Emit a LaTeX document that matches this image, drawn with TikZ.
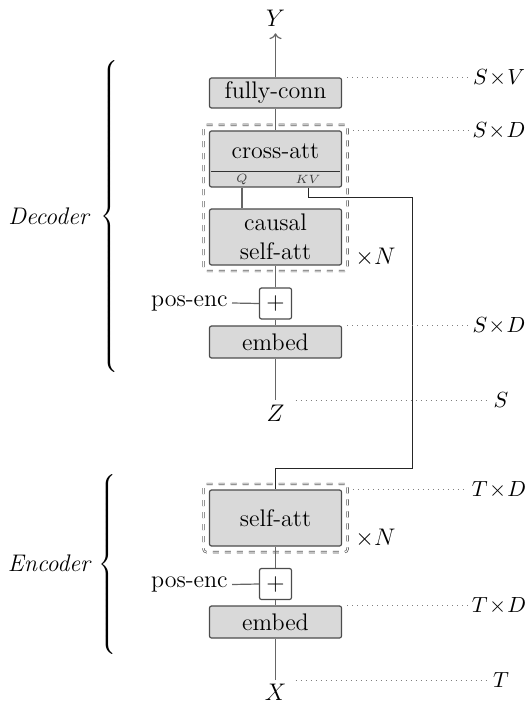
\documentclass[tikz,border=0pt]{standalone}
\usetikzlibrary{fit,calc,arrows.meta}
\begin{document}
\begin{tikzpicture}[x=0.5pt,y=-0.5pt,
  every node/.style={font=\fontsize{12}{14.5}\selectfont},
  blk/.style={draw=black!70, fill=black!15, line width=0.6pt, rounded corners=1pt, minimum width=66pt, inner sep=0pt, align=center},
  addbox/.style={draw=black!70, fill=white, line width=0.6pt, rounded corners=1pt, minimum width=16pt, minimum height=15.5pt, inner sep=0pt},
  wire/.style={draw=black!60, line width=0.6pt},
  rep/.style={draw=black!65, dashed, double=white, double distance=0.45pt, line width=0.35pt, rounded corners=1.5pt, inner sep=2.75pt},
  dim/.style={font=\fontsize{10.5}{12}\selectfont, inner sep=2pt},
  guide/.style={draw=black!50, dotted, line width=0.5pt},
  qk/.style={font=\fontsize{6}{7}\selectfont, text=black!75, inner sep=0pt},
  side/.style={font=\fontsize{12}{14.5}\selectfont\itshape},
]
\useasboundingbox (0,0) rectangle (529,704);

% ---------------- Decoder ----------------
\node (Y) at (275.5,18) {$Y$};
\node[blk, minimum height=15pt] (full) at (275.5,93) {fully-conn};
\node[blk, minimum height=28pt] (cross) at (275.5,159) {};
\node[inner sep=0pt] (crosstxt) at (275.5,151) {cross-att};
\node[qk] (Q) at (242,179.5) {$Q$};
\node[qk] (KV) at (308,179.5) {$KV$};
\node[blk, minimum height=28pt] (causal) at (275.5,237) {causal\\self-att};
\node[rep, fit=(cross)(causal)] (decrep) {};
\node[anchor=west, inner sep=0pt] (decN) at (355,257) {$\times N$};
\node[addbox] (plus) at (275.5,303.5) {$+$};
\node[anchor=east, inner sep=2pt] (posenc) at (232,303) {pos-enc};
\node[blk, minimum height=16pt] (embed) at (275.5,342) {embed};
\coordinate (zend) at (275.5,400);
\node (Z) at (275.5,413) {$Z$};

\draw[black!80, line width=0.6pt] ($(cross.south west)+(2,-16)$) -- ($(cross.south east)+(-2,-16)$);

\draw[wire,->] (full.north) -- (Y.south);
\draw[wire] (full.south) -- (cross.north);
\draw[wire] (Q.south |- cross.south) -- (Q.south |- causal.north);
\draw[wire] (causal.south) -- (plus.north);
\draw[wire] (plus.south) -- (embed.north);
\draw[wire] (embed.south) -- (zend);
\draw[wire] (posenc.east) -- (plus.west);

% ---------------- Encoder ----------------
\node[blk, minimum height=28pt] (selfatt) at (275.5,518) {self-att};
\node[rep, fit=(selfatt)] (encrep) {};
\node[anchor=west, inner sep=0pt] (encN) at (355,538) {$\times N$};
\node[addbox] (plus2) at (275.5,584) {$+$};
\node[anchor=east, inner sep=2pt] (posenc2) at (232,584.5) {pos-enc};
\node[blk, minimum height=16pt] (embed2) at (275.5,622) {embed};
\coordinate (xend) at (275.5,680);
\node (X) at (275.5,692) {$X$};

\draw[wire] (selfatt.south) -- (plus2.north);
\draw[wire] (plus2.south) -- (embed2.north);
\draw[wire] (embed2.south) -- (xend);
\draw[wire] (posenc2.east) -- (plus2.west);

% ---------------- cross connection ----------------
\coordinate (r1) at (412,198);
\coordinate (r2) at (412,468);
\draw[black!85, line width=0.5pt] (KV.south |- cross.south) |- (r1) -- (r2) -| (selfatt.north);

% ---------------- dimensions ----------------
\node[dim] (dSV) at (499,78) {$S\mkern1mu{\times}\mkern1mu V$};
\node[dim] (dSD1) at (499,131) {$S\mkern1mu{\times}\mkern1mu D$};
\node[dim] (dSD2) at (499,326) {$S\mkern1mu{\times}\mkern1mu D$};
\node[dim] (dS) at (501,400) {$S$};
\node[dim] (dTD1) at (499,490) {$T\mkern1mu{\times}\mkern1mu D$};
\node[dim] (dTD2) at (499,606) {$T\mkern1mu{\times}\mkern1mu D$};
\node[dim] (dT) at (501,680) {$T$};

\draw[guide] ($(full.north east)+(5,0)$) -- (dSV.west |- full.north);
\draw[guide] ($(decrep.east |- cross.north)+(5,0)$) -- (dSD1.west |- cross.north);
\draw[guide] ($(embed.north east)+(5,0)$) -- (dSD2.west |- embed.north);
\draw[guide] ($(zend)+(20,0)$) -- (dS.west |- zend);
\draw[guide] ($(encrep.east |- selfatt.north)+(5,0)$) -- (dTD1.west |- selfatt.north);
\draw[guide] ($(embed2.north east)+(5,0)$) -- (dTD2.west |- embed2.north);
\draw[guide] ($(xend)+(20,0)$) -- (dT.west |- xend);

% ---------------- braces ----------------
\node[inner sep=0pt] (decbr) at (111,217.5) {$\left\{\vrule height 75.5pt depth 75.5pt width 0pt\right.$};
\node[side] (declab) at (48.5,216) {Decoder};
\node[inner sep=0pt] (encbr) at (109,565) {$\left\{\vrule height 42.5pt depth 42.5pt width 0pt\right.$};
\node[side] (enclab) at (49,563) {Encoder};
\end{tikzpicture}
\end{document}
